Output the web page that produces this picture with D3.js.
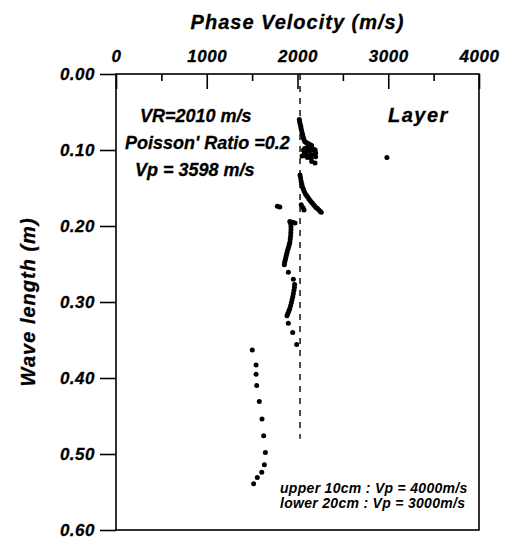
<!DOCTYPE html>
<html>
<head>
<meta charset="utf-8">
<script src="https://cdn.jsdelivr.net/npm/d3@7"></script>
<style>
  body { margin: 0; background: #fff; }
  text { font-family: "Liberation Sans", Arial, sans-serif; font-weight: bold; font-style: italic; fill: #000; }
</style>
</head>
<body>
<script>
// tick labels
var velocityTicks = [0, 1000, 2000, 3000, 4000],
    velocityMinor = [500, 1500, 2500, 3500],
    wavelengthTicks = [0, 0.1, 0.2, 0.3, 0.4, 0.5, 0.6];

// measured points (phase velocity m/s, wave length m)
var velocity = [
  2020, 2024, 2030, 2036, 2040, 2046, 2052, 2058, 2064, 2072, 2082, 2095, 2110, 2125, 2140, 2155,
  2120, 2100, 2080, 2066, 2075, 2090, 2110, 2135, 2160, 2180, 2195, 2200, 2180, 2150, 2120, 2095,
  2070, 2050, 2110, 2150, 2200, 2156, 2193, 2985,
  2028, 2034, 2040, 2048, 2056, 2066, 2076, 2088, 2100, 2112, 2124, 2136, 2150, 2164, 2178, 2192,
  2206, 2220, 2236, 2250, 2262, 2041, 2060, 2072, 1778, 1805,
  1972, 1945, 1925, 1915, 1928, 1928, 1926, 1924, 1920, 1916, 1910, 1904, 1896, 1888, 1882, 1876,
  1870, 1864, 1858, 1855, 1899,
  1954, 1968, 1966, 1960, 1954, 1948, 1940, 1932, 1924, 1914, 1904, 1894, 1884, 1899, 1947, 1991,
  1502, 1543, 1543, 1550, 1579, 1609, 1627, 1646, 1635, 1606, 1557, 1517
];
var wavelength = [
  0.060, 0.063, 0.066, 0.069, 0.072, 0.075, 0.078, 0.081, 0.084, 0.087, 0.089, 0.090, 0.091, 0.092, 0.093, 0.094,
  0.096, 0.097, 0.098, 0.100, 0.102, 0.103, 0.102, 0.101, 0.100, 0.099, 0.100, 0.104, 0.106, 0.107, 0.108, 0.108,
  0.107, 0.108, 0.110, 0.111, 0.109, 0.115, 0.117, 0.110,
  0.133, 0.137, 0.141, 0.145, 0.149, 0.152, 0.155, 0.158, 0.160, 0.162, 0.164, 0.166, 0.168, 0.170, 0.172, 0.174,
  0.176, 0.177, 0.179, 0.181, 0.182, 0.172, 0.176, 0.179, 0.174, 0.175,
  0.196, 0.195, 0.197, 0.194, 0.201, 0.205, 0.209, 0.213, 0.217, 0.221, 0.224, 0.227, 0.230, 0.233, 0.236, 0.239,
  0.242, 0.245, 0.248, 0.251, 0.261,
  0.270, 0.277, 0.281, 0.285, 0.289, 0.293, 0.297, 0.301, 0.305, 0.309, 0.312, 0.315, 0.318, 0.328, 0.340, 0.356,
  0.363, 0.383, 0.395, 0.410, 0.431, 0.454, 0.476, 0.498, 0.514, 0.524, 0.531, 0.539
];

// reference Rayleigh velocity line
var vrLine = { velocity: 2028, from: 0, to: 0.48 };

var notes = ["VR=2010 m/s", "Poisson' Ratio =0.2", "Vp = 3598 m/s"];
var layerNotes = ["upper 10cm : Vp = 4000m/s", "lower 20cm : Vp = 3000m/s"];

// canvas
var margin = {top: 74, right: 28, bottom: 9, left: 116},
    plotWidth = 363,
    plotHeight = 456,
    canvasWidth = 507,
    canvasHeight = 539;

var figure = d3.select("body")
  .append("svg")
    .attr("width", canvasWidth)
    .attr("height", canvasHeight);

var x = d3.scaleLinear()
    .range([margin.left, margin.left + plotWidth])
    .domain([0, 4000]);
var y = d3.scaleLinear()
    .range([margin.top, margin.top + plotHeight])
    .domain([0, 0.6]);

// frame
figure.append("rect")
  .attr("x", x(0)).attr("y", y(0))
  .attr("width", plotWidth).attr("height", plotHeight)
  .attr("fill", "none").attr("stroke", "#000").attr("stroke-width", 1.6);

// top axis, ticks pointing into the plot
figure.append("g")
  .attr("transform", "translate(0," + y(0) + ")")
  .call(d3.axisTop(x).tickValues(velocityTicks).tickSize(-15).tickPadding(12).tickFormat(d3.format("d")));
figure.append("g")
  .attr("transform", "translate(0," + y(0) + ")")
  .call(d3.axisTop(x).tickValues(velocityMinor).tickSize(-7).tickFormat(""));

figure.append("g")
  .attr("transform", "translate(" + x(0) + ",0)")
  .call(d3.axisLeft(y).tickValues(wavelengthTicks).tickSize(16).tickPadding(5).tickFormat(d3.format(".2f")));

figure.selectAll(".domain").remove();
figure.selectAll(".tick line").attr("stroke", "#000").attr("stroke-width", 1.6);
figure.selectAll(".tick text")
  .style("font-family", "'Liberation Sans', Arial, sans-serif")
  .style("font-weight", "bold").style("font-style", "italic")
  .style("font-size", "17px").style("letter-spacing", "0.5px")
  .attr("fill", "#000").attr("stroke", "#000").attr("stroke-width", 0.3);

// dashed line
figure.append("line")
  .attr("x1", x(vrLine.velocity)).attr("x2", x(vrLine.velocity))
  .attr("y1", y(vrLine.from)).attr("y2", y(vrLine.to))
  .attr("stroke", "#000").attr("stroke-width", 1.4)
  .attr("stroke-dasharray", "6,6");

// points
figure.append("g")
  .attr("class", "circles")
  .selectAll("circle")
  .data(d3.range(velocity.length))
  .enter()
  .append("circle")
  .attr("r", 2.5)
  .attr("cx", function(i) { return x(velocity[i]); })
  .attr("cy", function(i) { return y(wavelength[i]); })
  .attr("fill", "#000");

// axis titles
figure.append("text")
  .attr("text-anchor", "middle")
  .attr("x", x(2000)).attr("y", 29)
  .style("font-size", "20px").style("letter-spacing", "1px")
  .attr("stroke", "#000").attr("stroke-width", 0.3)
  .text("Phase Velocity (m/s)");

figure.append("text")
  .attr("text-anchor", "middle")
  .attr("transform", "translate(35," + y(0.3) + ") rotate(-90)")
  .style("font-size", "20px").style("letter-spacing", "1px")
  .attr("stroke", "#000").attr("stroke-width", 0.3)
  .text("Wave length (m)");

// annotations
var noteX = [140, 125, 135],
    noteY = [122, 149, 176];
figure.selectAll(".note")
  .data(notes)
  .enter()
  .append("text")
  .attr("class", "note")
  .attr("x", function(d, i) { return noteX[i]; })
  .attr("y", function(d, i) { return noteY[i]; })
  .style("font-size", "18px")
  .attr("stroke", "#000").attr("stroke-width", 0.3)
  .text(function(d) { return d; });

figure.append("text")
  .attr("x", 388).attr("y", 122)
  .style("font-size", "20px").style("letter-spacing", "1.5px")
  .attr("stroke", "#000").attr("stroke-width", 0.3)
  .text("Layer");

figure.selectAll(".layer-note")
  .data(layerNotes)
  .enter()
  .append("text")
  .attr("class", "layer-note")
  .attr("x", 280)
  .attr("y", function(d, i) { return 493 + i * 15; })
  .style("font-size", "14px").style("letter-spacing", "0.3px")
  .text(function(d) { return d; });
</script>
</body>
</html>
